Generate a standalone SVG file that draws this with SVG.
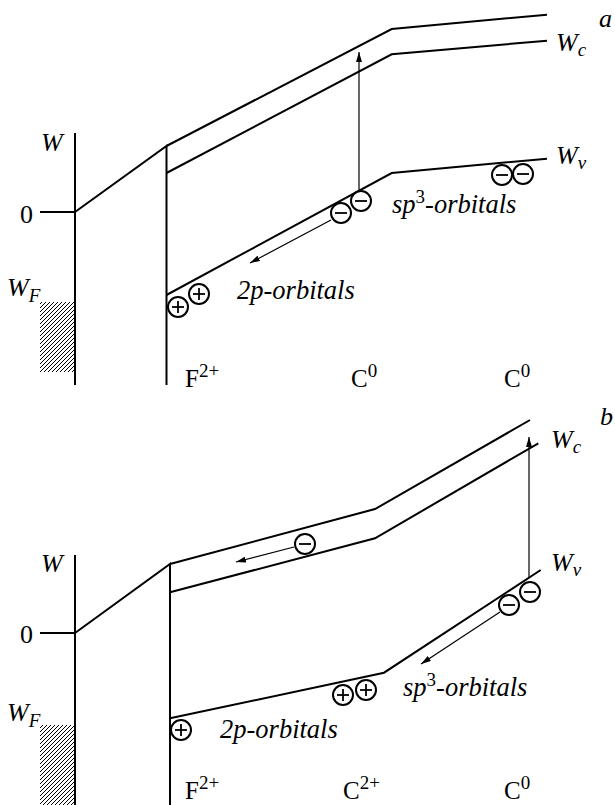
<svg xmlns="http://www.w3.org/2000/svg" width="615" height="805" viewBox="0 0 615 805">
<defs>
<style>
.ln{fill:none;stroke:#000;stroke-width:2;stroke-linejoin:miter}
.ar{fill:none;stroke:#000;stroke-width:1.2}
.ch{fill:#fff;stroke:#000;stroke-width:2}
.sg{stroke:#000;stroke-width:1.8}
text{font-family:"Liberation Serif","Times New Roman",serif;fill:#000}
.it{font-style:italic}
.lab{font-size:26px}
.orb{font-size:26.5px;font-style:italic}
.ion{font-size:25px}
.sup{font-size:19px;font-style:normal}
.sub{font-size:19px}
</style>
<marker id="ah" viewBox="0 0 10 6" refX="10" refY="3" markerWidth="10" markerHeight="6" markerUnits="userSpaceOnUse" orient="auto"><path d="M0,0 L10,3 L0,6 z" fill="#000"/></marker>
<pattern id="hatch" patternUnits="userSpaceOnUse" width="4" height="4"><path d="M-1,1 L1,-1 M0,4 L4,0 M3,5 L5,3" stroke="#000" stroke-width="1"/></pattern>
<g id="minus"><circle r="10" class="ch"/><line x1="-6" y1="0" x2="6" y2="0" class="sg"/></g>
<g id="plus"><circle r="10" class="ch"/><line x1="-6" y1="0" x2="6" y2="0" class="sg"/><line x1="0" y1="-6" x2="0" y2="6" class="sg"/></g>
</defs>

<!-- Panel a -->
<g id="panel-a">
  <g id="a-metal">
    <rect x="40" y="302" width="35" height="70" fill="url(#hatch)"/>
    <line x1="75" y1="133" x2="75" y2="385" class="ln"/>
    <line x1="40" y1="212" x2="75" y2="212" class="ln"/>
    <text x="41" y="151" class="lab it">W</text>
    <text x="20" y="223" class="lab">0</text>
    <text x="7" y="296" class="lab it">W<tspan class="sub" dy="6">F</tspan></text>
  </g>
  <g id="a-bands">
    <polyline points="75,212 166.5,146 166.5,385" class="ln"/>
    <polyline points="166.5,146 391.7,29 547,14.7" class="ln"/>
    <polyline points="166.5,173 391.7,54.3 547,40.7" class="ln"/>
    <polyline points="166.5,295 391.7,173 547,158.7" class="ln"/>
    <text x="599" y="27" class="lab it">a</text>
    <text x="556" y="51" class="lab it">W<tspan class="sub" dy="5">c</tspan></text>
    <text x="556" y="164" class="lab it">W<tspan class="sub" dy="5">v</tspan></text>
  </g>
  <g id="a-connectors">
    <line x1="359" y1="191" x2="359" y2="52" class="ar" marker-end="url(#ah)"/>
    <line x1="331" y1="220" x2="250" y2="263" class="ar" marker-end="url(#ah)"/>
  </g>
  <g id="a-charges">
    <use href="#plus" x="178" y="307"/>
    <use href="#plus" x="199" y="294"/>
    <use href="#minus" x="341" y="213"/>
    <use href="#minus" x="361" y="201"/>
    <use href="#minus" x="502" y="175"/>
    <use href="#minus" x="523" y="174"/>
  </g>
  <g id="a-labels">
    <text x="392" y="213" class="orb">sp<tspan class="sup" dy="-10">3</tspan><tspan dy="10">-orbitals</tspan></text>
    <text x="237" y="299" class="orb">2p-orbitals</text>
    <text x="185" y="387" class="ion">F<tspan class="sup" dy="-10">2+</tspan></text>
    <text x="351" y="387" class="ion">C<tspan class="sup" dy="-10">0</tspan></text>
    <text x="504" y="387" class="ion">C<tspan class="sup" dy="-10">0</tspan></text>
  </g>
</g>

<!-- Panel b -->
<g id="panel-b">
  <g id="b-metal">
    <rect x="40" y="725" width="35" height="80" fill="url(#hatch)"/>
    <line x1="75" y1="555" x2="75" y2="805" class="ln"/>
    <line x1="40" y1="633" x2="75" y2="633" class="ln"/>
    <text x="41" y="572" class="lab it">W</text>
    <text x="20" y="643" class="lab">0</text>
    <text x="7" y="721" class="lab it">W<tspan class="sub" dy="6">F</tspan></text>
  </g>
  <g id="b-bands">
    <polyline points="75,633 170,564 170,805" class="ln"/>
    <polyline points="170,564 375,509 530,420" class="ln"/>
    <polyline points="170,592.3 375,538.3 538.3,443.3" class="ln"/>
    <polyline points="170,718.3 384,672.7 540.7,570" class="ln"/>
    <text x="600" y="425" class="lab it">b</text>
    <text x="551" y="448" class="lab it">W<tspan class="sub" dy="5">c</tspan></text>
    <text x="551" y="571" class="lab it">W<tspan class="sub" dy="5">v</tspan></text>
  </g>
  <g id="b-connectors">
    <line x1="529" y1="578" x2="529" y2="437" class="ar" marker-end="url(#ah)"/>
    <line x1="500" y1="612" x2="421" y2="664" class="ar" marker-end="url(#ah)"/>
    <line x1="294" y1="547" x2="236" y2="562" class="ar" marker-end="url(#ah)"/>
  </g>
  <g id="b-charges">
    <use href="#minus" x="305" y="544"/>
    <use href="#minus" x="509" y="605"/>
    <use href="#minus" x="530" y="592"/>
    <use href="#plus" x="343" y="695"/>
    <use href="#plus" x="366" y="690"/>
    <use href="#plus" x="181" y="730"/>
  </g>
  <g id="b-labels">
    <text x="403" y="696" class="orb">sp<tspan class="sup" dy="-10">3</tspan><tspan dy="10">-orbitals</tspan></text>
    <text x="220" y="738" class="orb">2p-orbitals</text>
    <text x="185" y="799" class="ion">F<tspan class="sup" dy="-10">2+</tspan></text>
    <text x="343" y="799" class="ion">C<tspan class="sup" dy="-10">2+</tspan></text>
    <text x="504" y="799" class="ion">C<tspan class="sup" dy="-10">0</tspan></text>
  </g>
</g>
</svg>
